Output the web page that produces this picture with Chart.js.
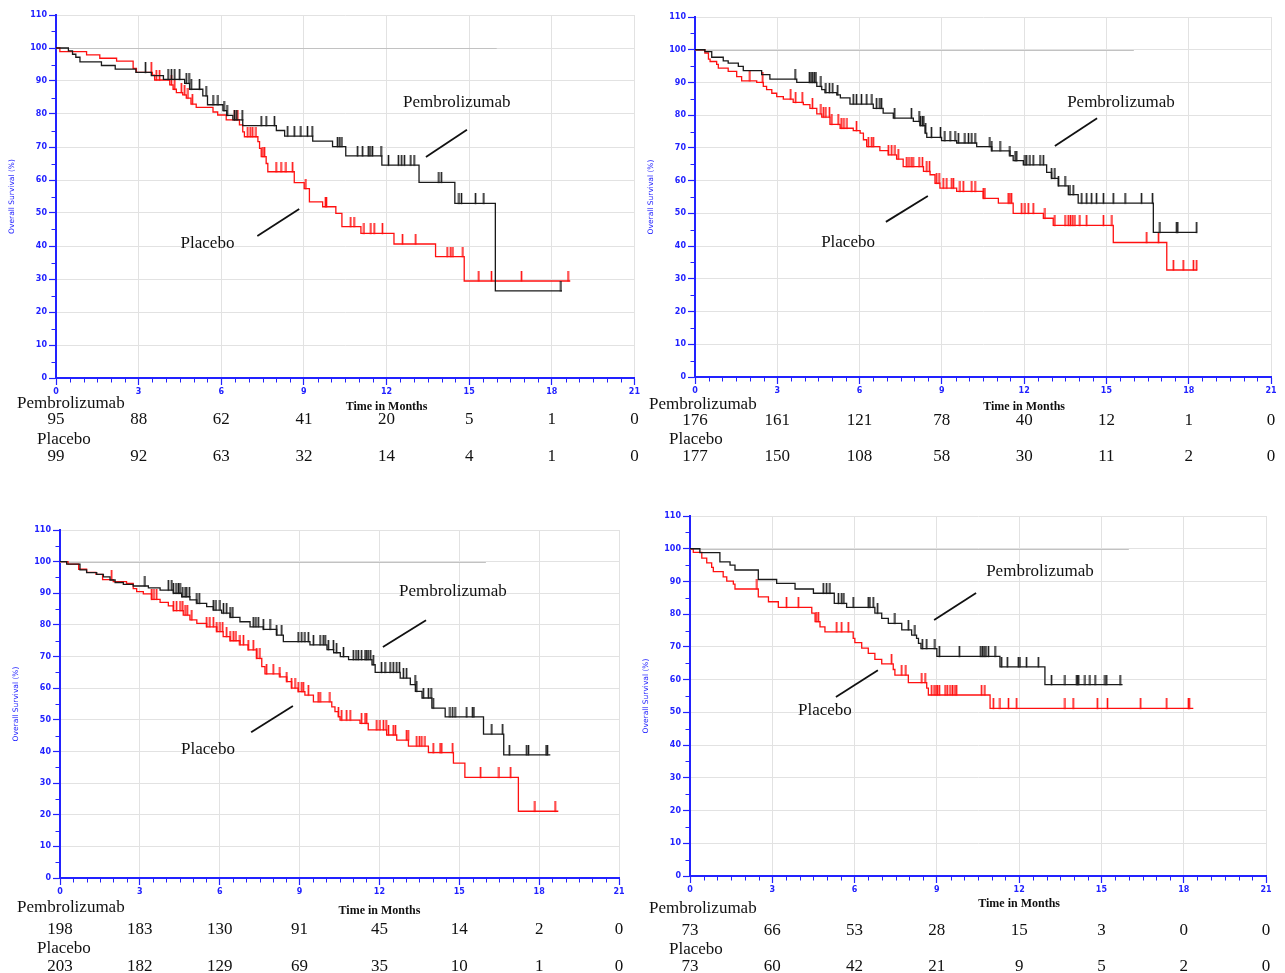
<!DOCTYPE html>
<html>
<head>
<meta charset="utf-8">
<title>Overall survival - Pembrolizumab vs Placebo</title>
<script src="https://cdn.jsdelivr.net/npm/chart.js@4.4.1/dist/chart.umd.min.js"></script>
<style>
  html, body { margin: 0; padding: 0; background: #fff; }
  body { width: 1285px; height: 973px; position: relative; overflow: hidden; }
  canvas { position: absolute; }
</style>
</head>
<body>
<canvas id="km1"></canvas>
<canvas id="km2"></canvas>
<canvas id="km3"></canvas>
<canvas id="km4"></canvas>
<script>
// --- Data: Kaplan-Meier steps are [month, survival %], censor marks are months ---
const riskTimes = [0, 3, 6, 9, 12, 15, 18, 21];

// Panel 1
const pembro1Steps = [[0,100],[0.45,99.1],[0.6,98.1],[0.72,97.2],[0.87,95.8],[1.65,94.7],[2.15,93.6],[2.9,92.6],[3.46,91.6],[3.9,90.5],[4.67,89.3],[4.85,87.5],[5.33,85.5],[5.5,82.8],[6.06,81.0],[6.2,79.6],[6.42,78.2],[6.78,76.5],[8.0,75.0],[8.3,73.3],[9.32,71.8],[10.04,70.1],[10.52,67.3],[11.83,64.5],[13.18,59.3],[14.48,52.9],[15.95,26.4]];
const pembro1End = 18.37;
const pembro1Censored = [3.25,4.07,4.19,4.31,4.49,4.73,4.83,4.91,5.21,5.45,5.7,5.88,6.1,6.21,6.48,6.56,6.76,7.45,7.63,7.93,8.41,8.65,8.89,9.13,9.3,10.22,10.3,10.38,10.95,11.13,11.34,11.4,11.49,11.8,12.07,12.43,12.55,12.65,12.88,13.0,13.9,13.99,14.63,14.72,15.23,15.53,18.33];
const placebo1Steps = [[0,100],[0.14,98.9],[1.11,97.9],[1.59,96.9],[2.2,96.0],[2.8,93.8],[2.92,92.6],[3.5,91.8],[3.58,90.3],[4.13,88.8],[4.25,87.5],[4.37,86.5],[4.6,85.8],[4.73,84.8],[4.9,83.0],[5.09,82.0],[5.7,80.6],[5.87,79.7],[6.18,78.2],[6.66,76.7],[6.78,74.6],[6.84,73.1],[7.33,71.6],[7.39,69.6],[7.45,67.1],[7.63,65.0],[7.69,62.5],[8.65,59.2],[9.01,57.4],[9.2,53.4],[9.68,51.9],[10.16,49.9],[10.38,45.9],[11.07,43.8],[12.27,40.6],[13.78,36.8],[14.82,29.4]];
const placebo1End = 18.67;
const placebo1Censored = [3.46,3.64,3.76,4.19,4.31,4.55,4.67,4.79,4.95,6.48,6.6,6.96,7.05,7.14,7.26,7.51,7.57,7.99,8.17,8.35,8.59,9.07,9.78,9.82,10.7,10.82,11.18,11.43,11.55,11.85,12.58,13.06,14.2,14.33,14.41,14.77,15.35,15.81,16.9,18.59];
const pembro1AtRisk = [95, 88, 62, 41, 20, 5, 1, 0];
const placebo1AtRisk = [99, 92, 63, 32, 14, 4, 1, 0];

// Panel 2
const pembro2Steps = [[0,100],[0.36,99.4],[0.61,97.7],[1.03,96.6],[1.21,95.9],[1.58,94.9],[1.76,93.6],[2.43,92.4],[2.73,91.0],[3.71,90.0],[4.44,88.8],[4.62,87.8],[4.74,86.9],[5.17,86.2],[5.3,85.3],[5.65,83.4],[6.5,82.1],[6.86,80.6],[7.23,79.1],[7.96,78.1],[8.2,76.8],[8.39,74.5],[8.45,73.2],[8.99,72.2],[9.54,71.5],[10.27,70.4],[10.82,69.1],[11.48,67.6],[11.6,66.1],[11.97,64.8],[12.82,62.5],[13.0,60.7],[13.25,58.4],[13.61,55.7],[13.97,53.1],[16.71,44.2]];
const pembro2End = 18.31;
const pembro2Censored = [3.65,4.17,4.23,4.29,4.35,4.41,4.59,4.77,4.9,5.02,5.2,5.77,5.89,6.07,6.26,6.45,6.62,6.74,6.8,7.28,7.89,8.17,8.22,8.29,8.34,8.41,8.62,8.95,9.11,9.3,9.48,9.6,9.84,9.97,10.09,10.21,10.75,10.82,11.12,11.48,11.67,11.73,12.03,12.09,12.21,12.33,12.58,12.7,13.0,13.12,13.25,13.49,13.67,13.79,14.1,14.28,14.46,14.64,14.89,15.25,15.68,16.28,16.68,16.95,17.56,17.6,18.29];
const placebo2Steps = [[0,100],[0.36,99.0],[0.49,97.1],[0.55,96.4],[0.79,95.5],[0.85,94.4],[1.21,93.4],[1.52,91.8],[1.7,90.5],[2.25,90.0],[2.49,88.8],[2.61,87.8],[2.8,86.7],[2.98,85.7],[3.22,84.9],[3.58,83.9],[3.95,83.2],[4.19,82.1],[4.44,80.4],[4.62,79.4],[4.92,77.2],[5.29,76.0],[5.77,75.3],[6.02,74.5],[6.14,72.5],[6.26,70.4],[6.74,69.2],[7.05,67.9],[7.35,66.6],[7.59,64.3],[8.33,62.8],[8.57,61.8],[8.75,59.2],[8.93,57.7],[9.54,56.7],[10.51,54.6],[11.06,53.1],[11.6,50.0],[12.7,48.5],[13.06,46.3],[15.25,41.1],[17.2,32.7]];
const placebo2End = 18.31;
const placebo2Censored = [2.0,2.47,3.49,3.67,3.91,4.28,4.59,4.68,4.77,4.9,4.99,5.22,5.33,5.43,5.54,5.89,6.32,6.44,6.5,7.05,7.17,7.29,7.41,7.72,7.8,7.88,7.95,8.17,8.29,8.45,8.55,8.81,8.9,9.05,9.18,9.36,9.42,9.66,9.78,10.09,10.21,10.51,10.57,11.42,11.48,11.54,11.91,12.03,12.15,12.33,12.76,13.12,13.49,13.61,13.69,13.77,13.85,14.03,14.28,14.89,15.2,16.47,16.9,17.44,17.8,18.17,18.29];
const pembro2AtRisk = [176, 161, 121, 78, 40, 12, 1, 0];
const placebo2AtRisk = [177, 150, 108, 58, 30, 11, 2, 0];

// Panel 3
const pembro3Steps = [[0,100],[0.25,99.2],[0.75,97.4],[1.0,96.5],[1.38,96.0],[1.63,95.2],[1.88,94.2],[2.07,93.4],[2.38,92.8],[2.75,92.3],[3.32,91.7],[3.76,91.0],[4.26,90.0],[4.57,88.9],[4.88,87.9],[5.14,86.8],[5.51,85.8],[5.76,84.7],[6.07,83.7],[6.39,82.4],[6.76,81.0],[7.14,79.4],[7.64,78.6],[8.14,76.8],[8.39,74.7],[9.39,73.7],[10.03,72.2],[10.28,71.2],[10.53,70.0],[10.84,69.0],[11.72,67.4],[11.84,65.0],[12.78,63.2],[13.16,61.1],[13.35,59.0],[13.6,56.9],[13.97,53.7],[14.47,50.9],[15.91,45.5],[16.67,38.9]];
const pembro3End = 18.42;
const pembro3Censored = [3.19,4.07,4.2,4.26,4.36,4.45,4.51,4.61,4.7,4.76,4.86,5.14,5.23,5.76,5.86,6.01,6.14,6.26,6.39,6.49,7.26,7.36,7.45,7.64,7.89,8.14,8.33,8.95,9.08,9.2,9.33,9.52,9.77,9.89,9.96,10.08,10.27,10.39,10.65,11.02,11.12,11.21,11.33,11.46,11.52,11.58,11.67,11.77,12.08,12.21,12.4,12.52,12.65,12.75,12.9,13.02,13.34,13.4,13.65,13.84,13.94,14.02,14.65,14.75,14.84,15.28,15.5,15.55,16.22,16.63,16.88,17.53,17.6,18.26,18.31];
const placebo3Steps = [[0,100],[0.3,99.2],[0.7,97.6],[1.0,96.6],[1.35,96.0],[1.6,94.3],[2.0,93.7],[2.5,93.1],[2.75,91.5],[2.88,90.5],[3.13,89.8],[3.44,88.1],[3.76,87.1],[4.07,86.0],[4.26,84.5],[4.63,83.1],[4.88,81.6],[5.14,80.5],[5.51,79.4],[5.89,77.9],[6.13,76.3],[6.39,75.0],[6.76,73.7],[7.07,72.1],[7.39,69.4],[7.58,66.8],[7.7,64.5],[8.26,63.6],[8.52,62.1],[8.7,60.0],[8.95,58.9],[9.2,57.8],[9.52,55.7],[10.21,54.1],[10.33,52.6],[10.46,51.0],[10.52,49.9],[11.27,48.9],[11.58,46.8],[12.27,45.2],[12.65,43.6],[13.09,41.7],[13.84,39.6],[14.78,36.3],[15.21,31.8],[17.22,21.1]];
const placebo3End = 18.72;
const placebo3Censored = [1.94,3.44,3.53,3.63,4.26,4.38,4.51,4.61,4.7,4.78,4.95,5.51,5.63,5.76,5.89,6.01,6.11,6.26,6.39,6.51,6.61,6.76,6.89,7.07,7.26,7.39,7.51,7.76,8.01,8.26,8.52,8.7,8.83,8.95,9.08,9.14,9.33,9.7,9.77,10.14,10.46,10.58,10.77,10.9,11.33,11.46,11.52,11.9,12.02,12.15,12.25,12.34,12.52,12.6,13.02,13.08,13.4,13.5,13.59,13.71,14.02,14.28,14.34,14.75,15.8,16.49,16.93,17.84,18.6];
const pembro3AtRisk = [198, 183, 130, 91, 45, 14, 2, 0];
const placebo3AtRisk = [203, 182, 129, 69, 35, 10, 1, 0];

// Panel 4
const pembro4Steps = [[0,100],[0.36,98.8],[1.09,96.0],[1.46,95.0],[1.64,93.5],[2.49,90.6],[3.16,89.4],[3.83,87.7],[4.5,86.4],[5.26,83.3],[5.71,82.1],[6.74,80.3],[6.99,78.7],[7.23,77.2],[7.72,75.2],[8.08,73.6],[8.26,72.6],[8.33,71.1],[8.42,69.5],[9.0,67.1],[11.3,63.9],[12.94,58.5]];
const pembro4End = 15.77;
const pembro4Censored = [4.86,4.98,5.1,5.41,5.53,5.61,5.95,6.5,6.56,6.68,6.84,7.47,7.96,8.2,8.47,8.63,8.93,9.09,9.82,10.6,10.66,10.72,10.79,10.88,11.12,11.36,11.57,11.97,12.03,12.27,12.7,13.18,13.67,14.1,14.13,14.17,14.4,14.58,14.77,15.13,15.19,15.68];
const placebo4Steps = [[0,100],[0.12,98.9],[0.43,97.1],[0.61,95.7],[0.79,94.3],[0.85,93.0],[1.21,91.4],[1.34,90.1],[1.58,89.2],[1.64,87.7],[2.49,85.3],[2.86,83.8],[3.22,82.1],[4.44,80.3],[4.56,77.7],[4.74,76.1],[4.92,74.6],[5.95,72.6],[6.01,71.3],[6.26,69.6],[6.5,68.0],[6.74,66.2],[6.99,64.8],[7.41,63.1],[7.47,61.4],[7.96,59.1],[8.63,57.4],[8.69,55.3],[10.94,51.2]];
const placebo4End = 18.35;
const placebo4Censored = [2.44,3.52,3.95,4.6,4.68,5.35,5.53,5.77,7.35,7.72,7.87,8.45,8.57,8.81,8.9,8.97,9.02,9.09,9.3,9.38,9.48,9.57,9.66,9.72,10.63,10.75,11.06,11.3,11.61,11.91,13.67,13.97,14.85,15.22,16.43,17.38,18.17,18.2];
const pembro4AtRisk = [73, 66, 53, 28, 15, 3, 0, 0];
const placebo4AtRisk = [73, 60, 42, 21, 9, 5, 2, 0];

// --- Styling ---
const axisBlue = '#2222ff';
const gridGrey = '#e2e2e2';
const pembroColor = '#1a1a1a';
const placeboColor = '#ff1010';
const serif = '"Liberation Serif", "Times New Roman", serif';

// Layout of the four panels on the page (canvas box + plot area inside the canvas)
const panels = [
  {
    id: 'km1', left: 0, top: 0, width: 642, height: 475,
    area: { left: 56, top: 15, right: 636, bottom: 378 },
    pembro: [pembro1Steps, pembro1End, pembro1Censored],
    placebo: [placebo1Steps, placebo1End, placebo1Censored],
    atRisk: [pembro1AtRisk, placebo1AtRisk],
    yTitleX: 12, labelX: [17, 37], rowDy: [26, 42, 62, 79], titleDy: 29,
    notes: { pembroText: [14.55, 83.6], pembroLine: [14.92, 75.2, 13.43, 67.0],
             placeboText: [5.5, 40.6], placeboLine: [8.83, 51.2, 7.31, 43.0] }
  },
  {
    id: 'km2', left: 642, top: 0, width: 643, height: 475,
    area: { left: 53, top: 17, right: 629, bottom: 377 },
    pembro: [pembro2Steps, pembro2End, pembro2Censored],
    placebo: [placebo2Steps, placebo2End, placebo2Censored],
    atRisk: [pembro2AtRisk, placebo2AtRisk],
    yTitleX: 9, labelX: [7, 27], rowDy: [28, 44, 63, 80], titleDy: 30,
    notes: { pembroText: [15.53, 84.0], pembroLine: [14.66, 79.1, 13.12, 70.6],
             placeboText: [5.58, 41.2], placeboLine: [8.49, 55.3, 6.96, 47.4] }
  },
  {
    id: 'km3', left: 0, top: 500, width: 642, height: 473,
    area: { left: 60, top: 30, right: 619, bottom: 378 },
    pembro: [pembro3Steps, pembro3End, pembro3Censored],
    placebo: [placebo3Steps, placebo3End, placebo3Censored],
    atRisk: [pembro3AtRisk, placebo3AtRisk],
    yTitleX: 16, labelX: [17, 37], rowDy: [30, 52, 71, 89], titleDy: 33,
    notes: { pembroText: [14.76, 90.7], pembroLine: [13.75, 81.5, 12.13, 73.0],
             placeboText: [5.56, 40.5], placeboLine: [8.75, 54.4, 7.18, 46.1] }
  },
  {
    id: 'km4', left: 642, top: 500, width: 643, height: 473,
    area: { left: 48, top: 16, right: 624, bottom: 376 },
    pembro: [pembro4Steps, pembro4End, pembro4Censored],
    placebo: [placebo4Steps, placebo4End, placebo4Censored],
    atRisk: [pembro4AtRisk, placebo4AtRisk],
    yTitleX: 4, labelX: [7, 27], rowDy: [33, 55, 74, 91], titleDy: 28,
    notes: { pembroText: [12.76, 92.9], pembroLine: [10.43, 86.5, 8.9, 78.2],
             placeboText: [4.92, 50.7], placeboLine: [6.85, 62.9, 5.32, 54.7] }
  }
];

// --- Helpers ---
function survivalAt(steps, t) {
  let s = steps[0][1];
  for (const [ti, si] of steps) {
    if (ti <= t) s = si;
  }
  return s;
}

function curvePoints(steps, end) {
  const pts = steps.map(([t, s]) => ({ x: t, y: s }));
  pts.push({ x: end, y: steps[steps.length - 1][1] });
  return pts;
}

// small vertical tick rising from the curve, used as the censor marker
function censorMark(color) {
  const c = document.createElement('canvas');
  c.width = 3;
  c.height = 20;
  const g = c.getContext('2d');
  g.fillStyle = color;
  g.fillRect(0.7, 0, 1.6, 10.5);
  return c;
}

function makeDecor(p) {
  return {
    id: 'kmDecor_' + p.id,
    beforeDatasetsDraw(chart) {
      const { ctx, scales: { x, y } } = chart;
      // grey reference line at 100%
      ctx.save();
      ctx.strokeStyle = '#c2c2c2';
      ctx.lineWidth = 1;
      ctx.beginPath();
      ctx.moveTo(x.getPixelForValue(0), Math.round(y.getPixelForValue(100)) + 0.5);
      ctx.lineTo(x.getPixelForValue(16), Math.round(y.getPixelForValue(100)) + 0.5);
      ctx.stroke();
      ctx.restore();
    },
    afterDraw(chart) {
      const { ctx, chartArea: a, scales: { x, y } } = chart;
      ctx.save();

      // minor ticks: every half month, every 5%
      ctx.strokeStyle = axisBlue;
      ctx.lineWidth = 1;
      ctx.beginPath();
      for (let m = 0.5; m < 21; m += 0.5) {
        if (m % 3 === 0) continue;
        const px = Math.round(x.getPixelForValue(m)) + 0.5;
        ctx.moveTo(px, a.bottom);
        ctx.lineTo(px, a.bottom + 4.5);
      }
      for (let v = 5; v < 110; v += 10) {
        const py = Math.round(y.getPixelForValue(v)) + 0.5;
        ctx.moveTo(a.left - 4.5, py);
        ctx.lineTo(a.left, py);
      }
      ctx.stroke();

      // y axis title
      ctx.fillStyle = axisBlue;
      ctx.font = '7.5px "DejaVu Sans", sans-serif';
      ctx.textAlign = 'center';
      ctx.textBaseline = 'middle';
      ctx.translate(p.yTitleX, (a.top + a.bottom) / 2);
      ctx.rotate(-Math.PI / 2);
      ctx.fillText('Overall Survival (%)', 0, 0);
      ctx.setTransform(1, 0, 0, 1, 0, 0);

      // x axis title
      ctx.fillStyle = '#111';
      ctx.font = 'bold 12px ' + serif;
      ctx.fillText('Time in Months', x.getPixelForValue(12), a.bottom + p.titleDy);

      // numbers at risk
      ctx.font = '17px ' + serif;
      ctx.textAlign = 'left';
      ctx.fillText('Pembrolizumab', p.labelX[0], a.bottom + p.rowDy[0]);
      ctx.fillText('Placebo', p.labelX[1], a.bottom + p.rowDy[2]);
      ctx.textAlign = 'center';
      riskTimes.forEach((t, i) => {
        const px = x.getPixelForValue(t);
        ctx.fillText(String(p.atRisk[0][i]), px, a.bottom + p.rowDy[1]);
        ctx.fillText(String(p.atRisk[1][i]), px, a.bottom + p.rowDy[3]);
      });

      // curve labels with leader lines
      const n = p.notes;
      ctx.fillText('Pembrolizumab', x.getPixelForValue(n.pembroText[0]), y.getPixelForValue(n.pembroText[1]));
      ctx.fillText('Placebo', x.getPixelForValue(n.placeboText[0]), y.getPixelForValue(n.placeboText[1]));
      ctx.strokeStyle = '#111';
      ctx.lineWidth = 1.8;
      [n.pembroLine, n.placeboLine].forEach(l => {
        ctx.beginPath();
        ctx.moveTo(x.getPixelForValue(l[0]), y.getPixelForValue(l[1]));
        ctx.lineTo(x.getPixelForValue(l[2]), y.getPixelForValue(l[3]));
        ctx.stroke();
      });

      ctx.restore();
    }
  };
}

// --- Build the four charts ---
const pembroMark = censorMark(pembroColor);
const placeboMark = censorMark(placeboColor);
const tickFont = { family: '"DejaVu Sans", sans-serif', size: 8, weight: 'bold' };

panels.forEach(p => {
  const canvas = document.getElementById(p.id);
  canvas.width = p.width;
  canvas.height = p.height;
  canvas.style.left = p.left + 'px';
  canvas.style.top = p.top + 'px';

  const [pbSteps, pbEnd, pbCens] = p.pembro;
  const [plSteps, plEnd, plCens] = p.placebo;

  new Chart(canvas.getContext('2d'), {
    type: 'line',
    data: {
      datasets: [
        {
          label: 'Pembrolizumab',
          data: curvePoints(pbSteps, pbEnd),
          borderColor: pembroColor,
          borderWidth: 1.3,
          stepped: 'before', // hold the level, then drop at the event time
          pointRadius: 0,
          fill: false
        },
        {
          label: 'Pembrolizumab censored',
          data: pbCens.map(t => ({ x: t, y: survivalAt(pbSteps, t) })),
          showLine: false,
          pointStyle: pembroMark,
          pointRadius: 3,
          pointHoverRadius: 3
        },
        {
          label: 'Placebo',
          data: curvePoints(plSteps, plEnd),
          borderColor: placeboColor,
          borderWidth: 1.3,
          stepped: 'before',
          pointRadius: 0,
          fill: false
        },
        {
          label: 'Placebo censored',
          data: plCens.map(t => ({ x: t, y: survivalAt(plSteps, t) })),
          showLine: false,
          pointStyle: placeboMark,
          pointRadius: 3,
          pointHoverRadius: 3
        }
      ]
    },
    options: {
      responsive: false,
      animation: false,
      events: [],
      layout: { padding: { left: 0, top: p.area.top, right: p.width - p.area.right, bottom: 0 } },
      plugins: { legend: { display: false }, tooltip: { enabled: false } },
      scales: {
        x: {
          type: 'linear', min: 0, max: 21,
          afterFit: s => { s.height = p.height - p.area.bottom; },
          ticks: { stepSize: 3, color: axisBlue, font: tickFont, padding: 2, maxRotation: 0, autoSkip: false },
          grid: { color: gridGrey, lineWidth: 1, tickLength: 7, tickColor: axisBlue, tickWidth: 1.2 },
          border: { color: axisBlue, width: 2 }
        },
        y: {
          type: 'linear', min: 0, max: 110,
          afterFit: s => { s.width = p.area.left; },
          ticks: { stepSize: 10, color: axisBlue, font: tickFont, padding: 2 },
          grid: { color: gridGrey, lineWidth: 1, tickLength: 7, tickColor: axisBlue, tickWidth: 1.2 },
          border: { color: axisBlue, width: 2 }
        }
      }
    },
    plugins: [makeDecor(p)]
  });
});
</script>
</body>
</html>
